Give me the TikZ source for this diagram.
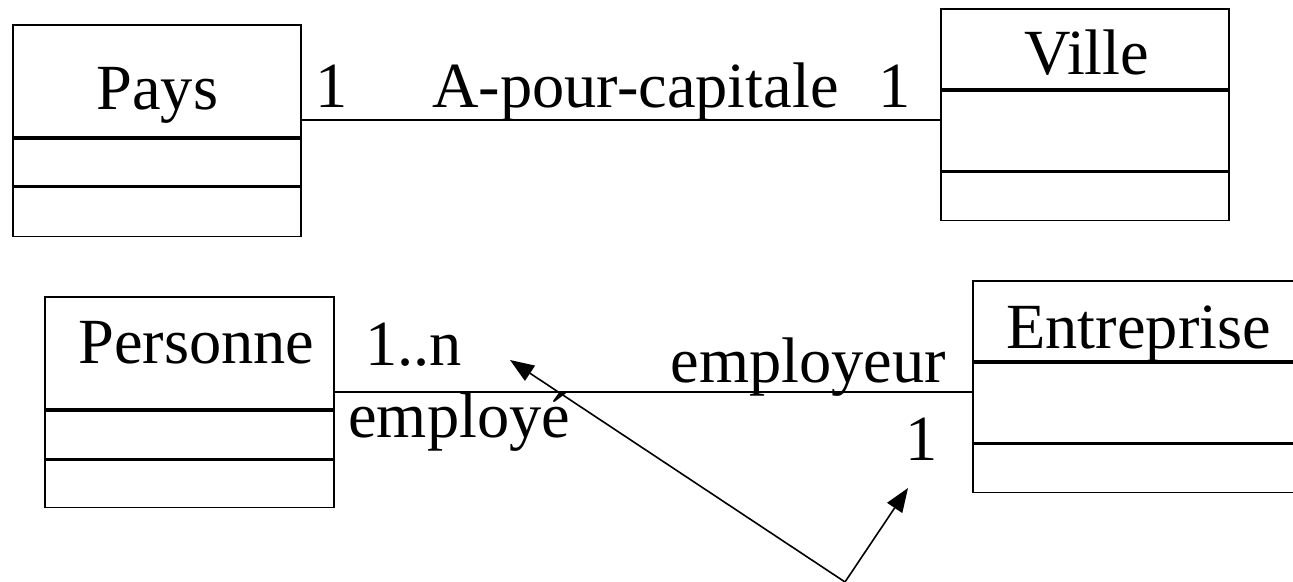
\documentclass[tikz,border=0pt]{standalone}
\usepackage{fontspec}
\setmainfont{Liberation Serif}
\usetikzlibrary{positioning, arrows.meta}

\begin{document}
\begin{tikzpicture}[x=0.5pt, y=-0.5pt,
    case/.style={draw, rectangle, inner sep=0pt, line width=0.9pt, anchor=north west},
    texte/.style={inner sep=0pt, anchor=base west, font=\fontsize{32.2}{38}\selectfont},
    lien/.style={line width=0.8pt},
    fleche/.style={line width=0.8pt, -{Triangle[length=12pt, width=9pt]}}]
            \useasboundingbox (0,0) rectangle (1293,582);

            % Classe Pays
            \node[case, minimum width=144pt, minimum height=56pt] (pays) at (12,24) {};
            \node[case, minimum width=144pt, minimum height=23.5pt, below=0pt of pays] (pays-att) {};
            \node[case, minimum width=144pt, minimum height=24.5pt, below=0pt of pays-att] (pays-op) {};

            % Classe Ville
            \node[case, minimum width=144pt, minimum height=40pt] (ville) at (940,8) {};
            \node[case, minimum width=144pt, minimum height=40pt, below=0pt of ville] (ville-att) {};
            \node[case, minimum width=144pt, minimum height=24pt, below=0pt of ville-att] (ville-op) {};

            % Classe Personne
            \node[case, minimum width=144.5pt, minimum height=56pt] (personne) at (44,296) {};
            \node[case, minimum width=144.5pt, minimum height=24pt, below=0pt of personne] (personne-att) {};
            \node[case, minimum width=144.5pt, minimum height=23.5pt, below=0pt of personne-att] (personne-op) {};

            % Classe Entreprise (coupee a droite)
            \node[case, minimum width=169pt, minimum height=40pt] (entreprise) at (972,280) {};
            \node[case, minimum width=169pt, minimum height=40pt, below=0pt of entreprise] (entreprise-att) {};
            \node[case, minimum width=169pt, minimum height=24pt, below=0pt of entreprise-att] (entreprise-op) {};

            % Noms des classes
            \node[texte] (nom-pays) at (96,110) {Pays};
            \node[texte] (nom-ville) at (1024,75) {Ville};
            \node[texte] (nom-personne) at (78,363) {Personne};
            \node[texte] (nom-entreprise) at (1006,348) {Entreprise};

            % Associations
            \coordinate (haut) at (0,120);
            \coordinate (bas) at (0,392);
            \draw[lien] (pays.east |- haut) -- (ville-att.west |- haut);
            \draw[lien] (personne.east |- bas) -- (entreprise-att.west |- bas);

            % Roles et multiplicites
            \node[texte] (mult-pays) at (315,108) {1};
            \node[texte] (nom-assoc) at (432,108) {A-pour-capitale};
            \node[texte] (mult-ville) at (878,108) {1};
            \node[texte] (mult-personne) at (365,365) {1..n};
            \node[texte] (role-employe) at (348,437) {employé};
            \node[texte] (role-employeur) at (670,382) {employeur};
            \node[texte] (mult-entreprise) at (905,460) {1};

            % Fleches
            \coordinate (pivot) at (845,582);
            \coordinate (vers-n) at (510,360);
            \coordinate (vers-1) at (908,488);
            \draw[fleche] (pivot) -- (vers-n);
            \draw[fleche] (pivot) -- (vers-1);
        \end{tikzpicture}
\end{document}
